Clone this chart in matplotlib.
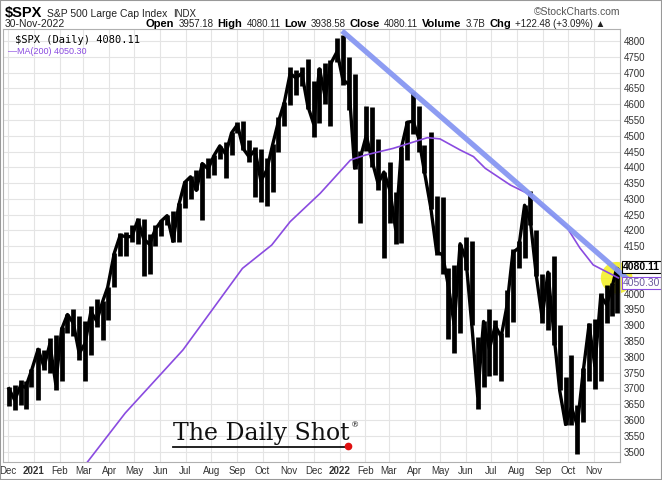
import numpy as np
import pandas as pd
import matplotlib
matplotlib.use('Agg')
import matplotlib.pyplot as plt
from matplotlib.patches import Rectangle

# weekly bars (week ending date, high, low, close)
week_end = ['2020-12-04', '2020-12-11', '2020-12-18', '2020-12-24', '2020-12-31',
            '2021-01-08', '2021-01-15', '2021-01-22', '2021-01-29', '2021-02-05',
            '2021-02-12', '2021-02-19', '2021-02-26', '2021-03-05', '2021-03-12',
            '2021-03-19', '2021-03-26', '2021-04-01', '2021-04-09', '2021-04-16',
            '2021-04-23', '2021-04-30', '2021-05-07', '2021-05-14', '2021-05-21',
            '2021-05-28', '2021-06-04', '2021-06-11', '2021-06-18', '2021-06-25',
            '2021-07-02', '2021-07-09', '2021-07-16', '2021-07-23', '2021-07-30',
            '2021-08-06', '2021-08-13', '2021-08-20', '2021-08-27', '2021-09-03',
            '2021-09-10', '2021-09-17', '2021-09-24', '2021-10-01', '2021-10-08',
            '2021-10-15', '2021-10-22', '2021-10-29', '2021-11-05', '2021-11-12',
            '2021-11-19', '2021-11-26', '2021-12-03', '2021-12-10', '2021-12-17',
            '2021-12-23', '2021-12-31', '2022-01-07', '2022-01-14', '2022-01-21',
            '2022-01-28', '2022-02-04', '2022-02-11', '2022-02-18', '2022-02-25',
            '2022-03-04', '2022-03-11', '2022-03-18', '2022-03-25', '2022-04-01',
            '2022-04-08', '2022-04-14', '2022-04-22', '2022-04-29', '2022-05-06',
            '2022-05-13', '2022-05-20', '2022-05-27', '2022-06-03', '2022-06-10',
            '2022-06-17', '2022-06-24', '2022-07-01', '2022-07-08', '2022-07-15',
            '2022-07-22', '2022-07-29', '2022-08-05', '2022-08-12', '2022-08-19',
            '2022-08-26', '2022-09-02', '2022-09-09', '2022-09-16', '2022-09-23',
            '2022-09-30', '2022-10-07', '2022-10-14', '2022-10-21', '2022-10-28',
            '2022-11-04', '2022-11-11', '2022-11-18', '2022-11-25', '2022-11-30']
week_high = [3705, 3712, 3726, 3723, 3760, 3827, 3823, 3860, 3870, 3894,
             3937, 3950, 3928, 3914, 3960, 3983, 3978, 4020, 4130, 4191,
             4195, 4218, 4238, 4237, 4188, 4218, 4234, 4249, 4262, 4286,
             4356, 4372, 4393, 4415, 4429, 4440, 4468, 4481, 4513, 4545,
             4548, 4486, 4465, 4457, 4430, 4475, 4560, 4608, 4719, 4708,
             4717, 4744, 4672, 4713, 4731, 4740, 4808, 4819, 4749, 4695,
             4453, 4595, 4590, 4489, 4386, 4416, 4321, 4465, 4546, 4637,
             4593, 4471, 4513, 4308, 4307, 4082, 4090, 4158, 4178, 4168,
             3863, 3913, 3950, 3918, 3876, 4013, 4141, 4167, 4280, 4325,
             4203, 4062, 4068, 4119, 3900, 3736, 3806, 3648, 3764, 3907,
             3919, 4001, 4029, 4034, 4080]
week_low = [3645, 3633, 3647, 3636, 3703, 3663, 3758, 3749, 3694, 3725,
            3877, 3866, 3789, 3723, 3805, 3894, 3853, 3917, 4020, 4119,
            4119, 4165, 4157, 4057, 4062, 4152, 4184, 4218, 4165, 4164,
            4271, 4300, 4327, 4233, 4367, 4375, 4425, 4367, 4439, 4509,
            4456, 4418, 4306, 4289, 4279, 4322, 4448, 4531, 4596, 4630,
            4659, 4585, 4495, 4541, 4600, 4532, 4733, 4662, 4582, 4395,
            4223, 4451, 4401, 4327, 4114, 4223, 4157, 4161, 4424, 4507,
            4450, 4381, 4269, 4124, 4063, 3858, 3811, 3876, 4074, 3900,
            3636, 3705, 3738, 3743, 3722, 3863, 3911, 4080, 4112, 4218,
            4057, 3907, 3886, 3838, 3694, 3585, 3584, 3491, 3594, 3722,
            3699, 3725, 3906, 3928, 3938]
week_close = [3699, 3663, 3709, 3703, 3756, 3824, 3768, 3841, 3714, 3887,
              3934, 3907, 3811, 3842, 3943, 3913, 3975, 4020, 4129, 4185,
              4180, 4181, 4233, 4174, 4156, 4204, 4230, 4247, 4166, 4281,
              4352, 4370, 4327, 4412, 4395, 4437, 4468, 4442, 4509, 4535,
              4459, 4433, 4455, 4357, 4391, 4471, 4545, 4605, 4697, 4683,
              4698, 4595, 4538, 4712, 4621, 4726, 4766, 4677, 4663, 4398,
              4432, 4501, 4419, 4349, 4385, 4329, 4204, 4463, 4543, 4546,
              4488, 4392, 4272, 4132, 4123, 4024, 3901, 4158, 4109, 3901,
              3675, 3912, 3825, 3899, 3863, 3962, 4130, 4145, 4280, 4228,
              4058, 3924, 4068, 3873, 3693, 3586, 3640, 3583, 3753, 3901,
              3771, 3993, 3965, 4026, 4080]

# 200-day moving average, read at intervals
ma_dates = ['2021-02-26', '2021-04-20', '2021-06-28', '2021-09-07', '2021-10-12',
            '2021-11-03', '2021-12-09', '2022-01-14', '2022-02-01', '2022-03-06',
            '2022-04-16', '2022-05-01', '2022-05-25', '2022-06-10', '2022-06-24',
            '2022-07-24', '2022-08-13', '2022-09-30', '2022-10-15', '2022-10-31',
            '2022-11-30']
ma_values = [3440, 3622, 3822, 4080, 4154, 4228, 4318, 4423, 4439, 4460,
             4494, 4490, 4455, 4434, 4397, 4344, 4318, 4208, 4145, 4091, 4050]

# hand-drawn trend line
trend_dates = ['2022-01-04', '2022-12-12']
trend_values = [4832, 4044]

month_labels = ['Dec', '2021', 'Feb', 'Mar', 'Apr', 'May', 'Jun', 'Jul', 'Aug', 'Sep',
                'Oct', 'Nov', 'Dec', '2022', 'Feb', 'Mar', 'Apr', 'May', 'Jun', 'Jul',
                'Aug', 'Sep', 'Oct', 'Nov']
y_ticks = list(range(3500, 4801, 50))
hidden_ticks = [4050, 4100]  # covered by the price tags

last_close = 4080.11
last_ma = 4050.30

W, H = 662, 480
fig = plt.figure(figsize=(W / 100, H / 100), dpi=100)
ax = fig.add_axes([3 / W, 18 / H, 617 / W, 433 / H])

dates = pd.to_datetime(week_end)
mid = dates - pd.Timedelta(days=2)
ax.vlines(mid, week_low, week_high, color='black', lw=3.4, zorder=3)
ax.plot(mid, week_close, color='black', lw=2.4, zorder=3)

ax.plot(pd.to_datetime(ma_dates), ma_values, color='#8a4be0', lw=1.2, zorder=4)
ax.plot(pd.to_datetime(trend_dates), trend_values, color='#8797f2', lw=3.8,
        alpha=0.95, solid_capstyle='butt', zorder=5, clip_on=False)

# yellow highlight at the last bar
ax.scatter([mid[-1]], [(last_close + last_ma) / 2 - 15], s=520, color='#f2ee10',
           alpha=0.8, edgecolors='none', zorder=2.5, clip_on=False)

ax.set_xlim(pd.Timestamp('2020-11-25'), pd.Timestamp('2022-12-02'))
ax.set_ylim(3467, 4838)

months = pd.date_range('2020-12-01', '2022-11-01', freq='MS')
ax.set_xticks(months)
ax.set_xticklabels(month_labels)
for lab in ax.get_xticklabels():
    if lab.get_text().startswith('20'):
        lab.set_fontweight('bold')
        lab.set_color('black')
        lab.set_fontsize(7.5)
ax.tick_params(axis='x', length=0, pad=3, labelsize=7, labelcolor='#333333')

ax.yaxis.tick_right()
ax.set_yticks(y_ticks)
ax.set_yticklabels(['' if v in hidden_ticks else str(v) for v in y_ticks])
ax.tick_params(axis='y', length=0, pad=3, labelsize=7, labelcolor='#333333')
for lab in ax.get_xticklabels() + ax.get_yticklabels():
    lab.set_fontfamily('Liberation Sans')

ax.grid(True, color='#e4e4e4', lw=0.8)
ax.set_axisbelow(True)
for s in ax.spines.values():
    s.set_color('#b0b0b0')
    s.set_linewidth(0.8)

# price tags on the right axis
ax.annotate(f'{last_close:.2f}', xy=(1.0, last_close), xycoords=('axes fraction', 'data'),
            xytext=(2, 1), textcoords='offset points', va='center', ha='left',
            fontsize=7.5, fontweight='bold', family='Liberation Sans', zorder=10,
            bbox=dict(boxstyle='square,pad=0.1', fc='white', ec='black', lw=0.8))
ax.annotate(f'{last_ma:.2f}', xy=(1.0, last_ma), xycoords=('axes fraction', 'data'),
            xytext=(2, -4), textcoords='offset points', va='center', ha='left',
            fontsize=7.5, color='#6a5a9a', family='Liberation Sans', zorder=9,
            bbox=dict(boxstyle='square,pad=0.1', fc='white', ec='#8a4be0', lw=0.8))

# legend inside the plot
ax.text(0.02, 0.985, '$SPX (Daily) 4080.11', transform=ax.transAxes, va='top', ha='left',
        fontsize=7.5, family='DejaVu Sans Mono', color='black', zorder=10)
ax.text(0.008, 0.958, '\u2014MA(200) 4050.30', transform=ax.transAxes, va='top', ha='left',
        fontsize=6.5, family='Liberation Sans', color='#8a4be0', zorder=10)

# header rows
renderer = fig.canvas.get_renderer()


def put_row(parts, x, y, gap=4):
    for txt, weight, size, col in parts:
        t = fig.text(x / W, 1 - y / H, txt, fontsize=size, fontweight=weight, color=col,
                     family='Liberation Sans', va='baseline', ha='left')
        x += t.get_window_extent(renderer).width + gap


put_row([('$SPX', 'bold', 10.5, 'black'), ('S&P 500 Large Cap Index', 'normal', 7.5, '#222222'),
         ('INDX', 'normal', 7, '#222222')], 5, 17, gap=5)
fig.text(620 / W, 1 - 15 / H, '\u00a9StockCharts.com', fontsize=7.5, color='#555555',
         family='Liberation Sans', ha='right', va='baseline')
put_row([('30-Nov-2022', 'normal', 7.5, '#222222')], 5, 27)
put_row([('Open', 'bold', 8, 'black'), ('3957.18', 'normal', 7, '#222222'),
         ('High', 'bold', 8, 'black'), ('4080.11', 'normal', 7, '#222222'),
         ('Low', 'bold', 8, 'black'), ('3938.58', 'normal', 7, '#222222'),
         ('Close', 'bold', 8, 'black'), ('4080.11', 'normal', 7, '#222222'),
         ('Volume', 'bold', 8, 'black'), ('3.7B', 'normal', 7, '#222222'),
         ('Chg', 'bold', 8, 'black'), ('+122.48 (+3.09%) \u25b2', 'normal', 7, '#222222')],
        146, 27)

# The Daily Shot logo
fig.text(173 / W, 1 - 440 / H, 'The Daily Shot', fontsize=17, family='DejaVu Serif',
         color='#111111', va='baseline', ha='left', zorder=10)
fig.text(351 / W, 1 - 427 / H, '\u00ae', fontsize=6, family='DejaVu Serif', color='#111111')
fig.lines.append(plt.Line2D([173 / W, 346 / W], [1 - 447 / H, 1 - 447 / H],
                            transform=fig.transFigure, color='#111111', lw=1.3))
fig.lines.append(plt.Line2D([348 / W], [1 - 446 / H], transform=fig.transFigure,
                            marker='o', ms=4.5, color='#e01010', lw=0))

# outer frame
fig.patches.append(Rectangle((0, 0), 1, 1, transform=fig.transFigure, fill=False,
                             ec='#999999', lw=1.5))

fig.savefig('out.png', dpi=100)
